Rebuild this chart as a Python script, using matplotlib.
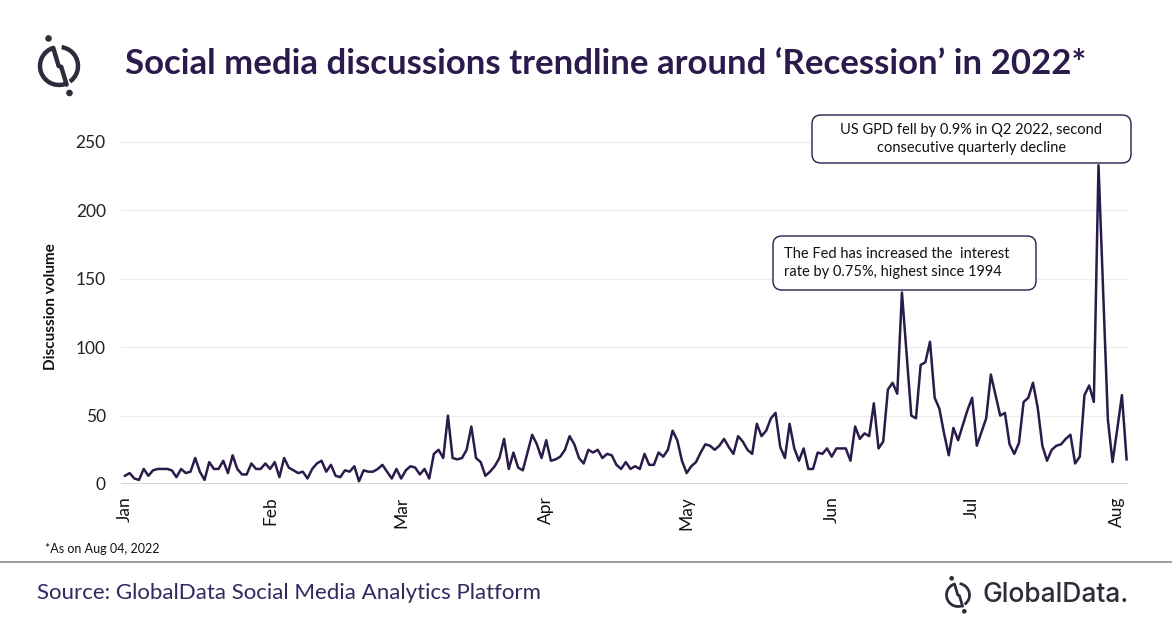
import matplotlib
matplotlib.use("Agg")
import matplotlib.pyplot as plt
from matplotlib.patches import FancyBboxPatch, Arc, Circle
from matplotlib.lines import Line2D
import matplotlib.transforms as mtransforms
import pandas as pd

# ---------------- data ----------------
start_date = "2022-01-01"
volume = [
    6, 8, 4, 3, 11, 6, 10, 11, 11, 11,
    10, 5, 11, 8, 9, 19, 9, 3, 16, 11,
    11, 17, 8, 21, 11, 7, 7, 15, 11, 11,
    15, 11, 16, 5, 19, 12,
    10, 8, 9, 4, 11, 15, 17, 9, 14, 6,
    5, 10, 9, 13, 2, 10, 9, 9, 11, 14,
    9, 4, 11, 4, 10, 13, 12, 7, 11, 4,
    22, 25, 19, 50, 19, 18,
    19, 25, 42, 19, 16, 6, 9, 13, 19, 33,
    11, 23, 12, 10, 23, 36, 29, 19, 32, 17,
    18, 20, 25, 35, 29, 19, 15, 25, 23, 25,
    19, 22, 21, 14, 11, 16,
    11, 13, 11, 22, 14, 14, 23, 20, 25, 39,
    32, 17, 8, 13, 16, 23, 29, 28, 25, 28,
    33, 27, 22, 35, 31, 25, 22, 44, 35, 39,
    48, 52, 27, 19, 44, 26,
    17, 26, 11, 11, 23, 22, 26, 20, 26, 26,
    26, 17, 42, 33, 37, 35, 59, 26, 31, 69,
    74, 66, 140, 95, 50, 48, 87, 89, 104, 63,
    55, 37, 21, 41, 32, 43, 54, 63,
    28, 38, 48, 80, 65, 50, 52, 29, 22, 30,
    60, 63, 74, 56, 28, 17, 25, 28, 29, 33,
    36, 15, 20, 65, 72, 60, 233, 140, 47, 16,
    40, 65, 18,
]
dates = pd.date_range(start_date, periods=len(volume), freq="D")
month_ticks = pd.date_range("2022-01-01", "2022-08-01", freq="MS")
month_labels = ["Jan", "Feb", "Mar", "Apr", "May", "Jun", "Jul", "Aug"]
y_ticks = [0, 50, 100, 150, 200, 250]

title = "Social media discussions trendline around \u2018Recession\u2019 in 2022*"
y_label = "Discussion volume"
note_text = "*As on Aug 04, 2022"
source_text = "Source: GlobalData Social Media Analytics Platform"
fed_note = "The Fed has increased the  interest\nrate by 0.75%, highest since 1994"
gdp_note = "US GPD fell by 0.9% in Q2 2022, second\nconsecutive quarterly decline"

# ---------------- style ----------------
W, H = 1172, 628
DPI = 100
LINE_C = "#2a1b4a"
TITLE_C = "#2b1a4c"
SRC_C = "#33275f"
LOGO_C = "#2e2b3a"
FONT = "Lato"

plt.rcParams["font.family"] = [FONT, "DejaVu Sans"]

fig = plt.figure(figsize=(W / DPI, H / DPI), dpi=DPI)
fig.patch.set_facecolor("white")

# pixel transform (origin top-left, y down)
px = mtransforms.Affine2D().scale(1 / DPI, -1 / DPI).translate(0, H / DPI) + fig.dpi_scale_trans

# axes placement
ax_left, ax_right = 121, 1128
y0_px, ppu = 484, 1.368
ymax = 260
ax_top = y0_px - ymax * ppu
ax = fig.add_axes([ax_left / W, 1 - y0_px / H, (ax_right - ax_left) / W, (y0_px - ax_top) / H])

ax.plot(dates, volume, color=LINE_C, lw=1.8, zorder=3)

d0 = pd.Timestamp(start_date)
ax.set_xlim(d0 - pd.Timedelta(days=0.85), d0 + pd.Timedelta(days=214.3))
ax.set_ylim(0, ymax)
ax.set_yticks(y_ticks)
ax.set_yticklabels([str(v) for v in y_ticks], fontsize=12.5, color="#222222")
ax.set_xticks(month_ticks)
ax.set_xticklabels(month_labels, rotation=90, fontsize=12.5, color="#111111", va="top", ha="center")
ax.tick_params(axis="both", length=0)
ax.tick_params(axis="x", pad=9)
ax.tick_params(axis="y", pad=11)
for s in ax.spines.values():
    s.set_visible(False)
ax.grid(axis="y", color="#ececec", lw=0.9, zorder=0)
ax.axhline(0, color="#d4d4d4", lw=1.3, zorder=1)
ax.set_axisbelow(True)
ax.set_ylabel(y_label, fontsize=11, fontweight="bold", color="#111111")
ax.yaxis.set_label_coords((58 - ax_left) / (ax_right - ax_left), 0.5 + 0.0)

# annotation boxes
def note_box(x0, y0, x1, y1):
    p = FancyBboxPatch((x0, y1), x1 - x0, y0 - y1, boxstyle="round,pad=0,rounding_size=9",
                       transform=px, facecolor="white", edgecolor=LINE_C, lw=1.0, zorder=5)
    fig.patches.append(p)

note_box(812, 163, 1131, 115)
fig.text(971.5, 139, gdp_note, transform=px, ha="center", va="center", fontsize=10.5,
         color="#111111", linespacing=1.45, zorder=6)
note_box(773, 290, 1036, 236)
fig.text(784, 263, fed_note, transform=px, ha="left", va="center", fontsize=10.5,
         color="#111111", linespacing=1.45, zorder=6)

# title
fig.text(125, 64, title, transform=px, ha="left", va="center", fontsize=25,
         fontweight="bold", color=TITLE_C)

# logo icon helper (px transform flips y, so angles are measured clockwise)
def logo(cx, cy, r, lw, dot_r):
    a_left = Arc((cx, cy), 2 * r, 2 * r, theta1=72, theta2=252, transform=px, color=LOGO_C, lw=lw)
    a_right = Arc((cx, cy), 2 * r, 2 * r, theta1=-82, theta2=55, transform=px, color=LOGO_C, lw=lw)
    fig.patches.extend([a_left, a_right])
    pts_x = [cx - 0.30 * r, cx - 0.02 * r, cx + 0.12 * r, cx + 0.40 * r]
    pts_y = [cy - 0.95 * r, cy + 0.0 * r, cy + 0.05 * r, cy + 0.98 * r]
    fig.lines.append(Line2D(pts_x, pts_y, transform=px, color=LOGO_C, lw=lw, solid_capstyle="round"))
    fig.patches.append(Circle((cx - 0.55 * r, cy - 1.45 * r), dot_r, transform=px, color=LOGO_C))
    fig.patches.append(Circle((cx + 0.55 * r, cy + 1.42 * r), dot_r, transform=px, color=LOGO_C))

logo(59, 66, 19, 3.2, 2.6)
logo(958, 595, 11.5, 2.0, 1.6)

# footer
fig.text(45, 549, note_text, transform=px, ha="left", va="center", fontsize=9, color="#111111")
fig.lines.append(Line2D([0, W], [562, 562], transform=px, color="#8c8c8c", lw=1.2))
fig.text(37, 593, source_text, transform=px, ha="left", va="center", fontsize=16, color=SRC_C)
fig.text(982, 595, "GlobalData.", transform=px, ha="left", va="center", fontsize=19,
         color=LOGO_C, family=["Inter", "DejaVu Sans"], fontweight="medium")

fig.savefig("out.png", dpi=DPI)
